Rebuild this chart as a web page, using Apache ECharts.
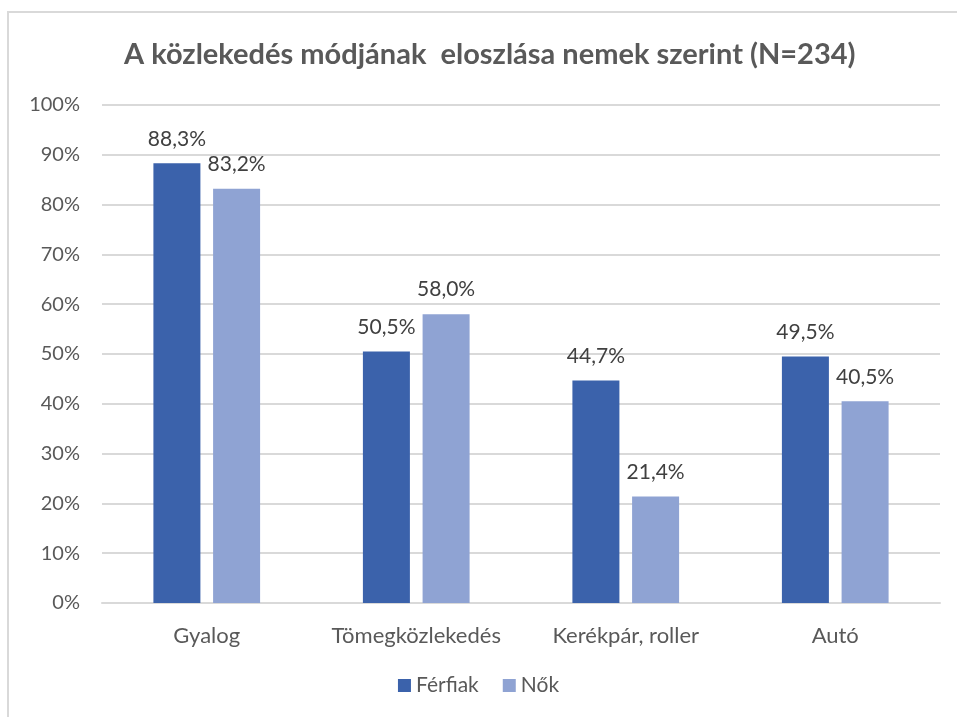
<!DOCTYPE html>
<html>
<head>
<meta charset="utf-8">
<script src="https://cdn.jsdelivr.net/npm/echarts@6/dist/echarts.min.js"></script>
<style>
html, body { margin: 0; padding: 0; background: #fff; }
#chart { width: 957px; height: 717px; }
</style>
</head>
<body>
<div id="chart"></div>
<script>
var categories = ['Gyalog', 'Tömegközlekedés', 'Kerékpár, roller', 'Autó'];
var ferfiak = [88.3, 50.5, 44.7, 49.5];
var nok = [83.2, 58.0, 21.4, 40.5];
var seriesNames = ['Férfiak', 'Nők'];

function pct(v) {
    return v.toFixed(1).replace('.', ',') + '%';
}

var FONT = 'Lato';

var myChart = echarts.init(document.getElementById('chart'));
myChart.setOption({
    animation: false,
    graphic: [{
        type: 'rect',
        shape: { x: 8, y: 12, width: 1000, height: 800 },
        style: { fill: 'none', stroke: '#d9d9d9', lineWidth: 2 },
        silent: true
    }],
    title: {
        text: 'A közlekedés módjának  eloszlása nemek szerint (N=234)',
        left: 119,
        top: 35,
        textStyle: {
            fontFamily: FONT,
            fontSize: 29,
            fontWeight: 'bold',
            color: '#595959'
        }
    },
    legend: {
        data: seriesNames,
        bottom: 16,
        left: 'center',
        itemWidth: 13,
        itemHeight: 13,
        itemGap: 24,
        icon: 'rect',
        textStyle: { fontFamily: FONT, fontSize: 21, color: '#595959' }
    },
    grid: {
        left: 102,
        right: 17,
        top: 105,
        bottom: 114
    },
    xAxis: {
        type: 'category',
        data: categories,
        axisTick: { show: false },
        axisLine: { lineStyle: { color: '#d9d9d9', width: 2 } },
        axisLabel: {
            interval: 0,
            fontFamily: FONT,
            fontSize: 22,
            color: '#595959',
            margin: 22
        }
    },
    yAxis: {
        type: 'value',
        min: 0,
        max: 100,
        interval: 10,
        axisLine: { show: false },
        axisTick: { show: false },
        splitLine: { lineStyle: { color: '#d9d9d9', width: 2 } },
        axisLabel: {
            fontFamily: FONT,
            fontSize: 20,
            color: '#595959',
            margin: 22,
            formatter: '{value}%'
        }
    },
    series: [{
        name: seriesNames[0],
        type: 'bar',
        data: ferfiak,
        barWidth: 47,
        barGap: '27%',
        itemStyle: { color: '#3b62ab' },
        label: {
            show: true,
            position: 'top',
            distance: 14,
            fontFamily: FONT,
            fontSize: 21,
            color: '#404040',
            formatter: function (p) { return pct(p.value); }
        }
    }, {
        name: seriesNames[1],
        type: 'bar',
        data: nok,
        barWidth: 47,
        itemStyle: { color: '#8fa3d3' },
        label: {
            show: true,
            position: 'top',
            distance: 14,
            fontFamily: FONT,
            fontSize: 21,
            color: '#404040',
            formatter: function (p) { return pct(p.value); }
        }
    }]
});
</script>
</body>
</html>
